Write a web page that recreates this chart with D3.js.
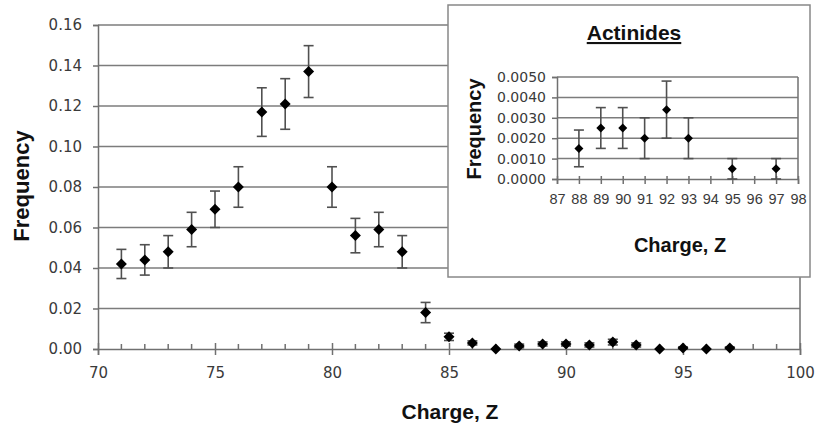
<!DOCTYPE html>
<html><head><meta charset="utf-8">
<script src="https://cdn.jsdelivr.net/npm/d3@7"></script>
<style>
html,body{margin:0;padding:0;background:#fff;}
svg{display:block;}
</style></head>
<body>
<svg id="chart" width="818" height="430"></svg>
<script>
// Main chart data
const charges = [71,72,73,74,75,76,77,78,79,80,81,82,83,84,85,86,87,88,89,90,91,92,93,94,95,96,97];
const freqs   = [0.042,0.044,0.048,0.059,0.069,0.080,0.117,0.121,0.137,0.080,0.056,0.059,0.048,0.018,0.006,0.003,0.000,0.0015,0.0025,0.0025,0.0020,0.0034,0.0020,0.000,0.0005,0.000,0.0005];
const errs    = [0.0072,0.0075,0.008,0.0085,0.009,0.010,0.012,0.0125,0.0128,0.010,0.0085,0.0085,0.008,0.005,0.0018,0.001,0,0.0009,0.001,0.001,0.001,0.0014,0.001,0,0.0005,0,0.0005];
const yTicks = [0,0.02,0.04,0.06,0.08,0.10,0.12,0.14,0.16];
const xTicks = [70,75,80,85,90,95,100];

// Inset (Actinides) data
const actCharges = [88,89,90,91,92,93,95,97];
const actFreqs   = [0.0015,0.0025,0.0025,0.0020,0.0034,0.0020,0.0005,0.0005];
const actErrs    = [0.0009,0.0010,0.0010,0.0010,0.0014,0.0010,0.0005,0.0005];
const actYTicks = [0,0.001,0.002,0.003,0.004,0.005];
const actXTicks = [87,88,89,90,91,92,93,94,95,96,97,98];

const svg = d3.select("#chart");
const GRID = "#7c7c7c", AXIS = "#707070", ERR = "#505050", TXT = "#3a3a3a";
const SANS = "Liberation Sans, Arial, sans-serif";
const WIDE = "DejaVu Sans, Verdana, sans-serif";

function drawPanel(g, opt){
  const x = d3.scaleLinear(opt.xDomain, opt.xRange);
  const y = d3.scaleLinear(opt.yDomain, opt.yRange);
  g.append("g").selectAll("line").data(opt.yTicks.filter(d=>d>0)).join("line")
    .attr("x1", opt.xRange[0]).attr("x2", opt.xRange[1])
    .attr("y1", d=>y(d)).attr("y2", d=>y(d))
    .attr("stroke", GRID).attr("stroke-width", 1.5);
  g.append("line").attr("x1", opt.xRange[1]).attr("x2", opt.xRange[1])
    .attr("y1", opt.yRange[0]).attr("y2", opt.yRange[1]).attr("stroke", AXIS).attr("stroke-width",1.5);
  const ya = d3.axisLeft(y).tickValues(opt.yTicks).tickFormat(opt.yFmt).tickSize(5).tickPadding(opt.yPad);
  const yg = g.append("g").attr("transform", `translate(${opt.xRange[0]},0)`).call(ya);
  yg.select(".domain").attr("stroke", AXIS).attr("stroke-width",1.5);
  yg.selectAll(".tick line").attr("stroke", AXIS).attr("stroke-width",1.5);
  yg.selectAll(".tick text").attr("font-family", opt.yFont).attr("font-size", opt.yFs).attr("fill", TXT);
  const xa = d3.axisBottom(x).tickValues(opt.xTicks).tickSize(opt.xTickDown).tickPadding(opt.xPad);
  const xg = g.append("g").attr("transform", `translate(0,${opt.yRange[0]})`).call(xa);
  xg.select(".domain").attr("stroke", AXIS).attr("stroke-width",1.5);
  xg.selectAll(".tick line").attr("stroke", AXIS).attr("stroke-width",1.5).attr("y1", -opt.xTickUp);
  xg.selectAll(".tick text").attr("font-family", opt.xFont).attr("font-size", opt.xFs).attr("fill", TXT);
  if (opt.minor){
    xg.append("g").selectAll("line").data(opt.minor).join("line")
      .attr("x1", d=>x(d)).attr("x2", d=>x(d)).attr("y1", 0).attr("y2", -5)
      .attr("stroke", AXIS).attr("stroke-width",1.5);
  }
  const data = opt.xs.map((c,i)=>({c, v:opt.vs[i], e:opt.es[i]}));
  const eb = g.append("g");
  data.filter(d=>d.e>0).forEach(d=>{
    const cx = x(d.c), y1 = y(d.v+d.e), y0 = y(Math.max(0,d.v-d.e));
    eb.append("line").attr("x1",cx).attr("x2",cx).attr("y1",y1).attr("y2",y0).attr("stroke",ERR).attr("stroke-width",1.6);
    eb.append("line").attr("x1",cx-opt.cap).attr("x2",cx+opt.cap).attr("y1",y1).attr("y2",y1).attr("stroke",ERR).attr("stroke-width",1.6);
    eb.append("line").attr("x1",cx-opt.cap).attr("x2",cx+opt.cap).attr("y1",y0).attr("y2",y0).attr("stroke",ERR).attr("stroke-width",1.6);
  });
  const r = opt.mk;
  g.append("g").selectAll("path").data(data).join("path")
    .attr("d", d=>`M${x(d.c)},${y(d.v)-r}L${x(d.c)+r},${y(d.v)}L${x(d.c)},${y(d.v)+r}L${x(d.c)-r},${y(d.v)}Z`)
    .attr("fill", "#000");
  return {x,y};
}

const mainG = svg.append("g");
drawPanel(mainG, {
  xDomain:[70,100], xRange:[98,800], yDomain:[0,0.16], yRange:[349,25],
  yTicks, xTicks, yFmt:d3.format(".2f"), yPad:11, yFont:WIDE, yFs:15,
  xTickDown:6, xTickUp:6, xPad:12, xFont:WIDE, xFs:15,
  minor: d3.range(71,100).filter(d=>d%5!==0),
  xs:charges, vs:freqs, es:errs, cap:5, mk:5.5
});
mainG.append("text").attr("transform","translate(29,186) rotate(-90)").attr("text-anchor","middle")
  .attr("font-family",SANS).attr("font-weight","bold").attr("font-size",22).attr("fill","#111").text("Frequency");
mainG.append("text").attr("x",450).attr("y",419).attr("text-anchor","middle")
  .attr("font-family",SANS).attr("font-weight","bold").attr("font-size",21).attr("fill","#111").text("Charge, Z");

const inG = svg.append("g");
inG.append("rect").attr("x",448).attr("y",5).attr("width",362).attr("height",272)
  .attr("fill","#fff").attr("stroke","#888").attr("stroke-width",1.5);
drawPanel(inG, {
  xDomain:[87,98], xRange:[557,798], yDomain:[0,0.005], yRange:[179,77],
  yTicks:actYTicks, xTicks:actXTicks, yFmt:d3.format(".4f"), yPad:6, yFont:WIDE, yFs:14,
  xTickDown:5, xTickUp:3, xPad:10, xFont:SANS, xFs:14.5,
  minor:null,
  xs:actCharges, vs:actFreqs, es:actErrs, cap:5, mk:4.5
});
inG.append("text").attr("x",634).attr("y",40).attr("text-anchor","middle")
  .attr("font-family",SANS).attr("font-weight","bold").attr("font-size",21).attr("fill","#111")
  .attr("text-decoration","underline").text("Actinides");
inG.append("text").attr("transform","translate(481,129) rotate(-90)").attr("text-anchor","middle")
  .attr("font-family",SANS).attr("font-weight","bold").attr("font-size",20).attr("fill","#111").text("Frequency");
inG.append("text").attr("x",680).attr("y",252).attr("text-anchor","middle")
  .attr("font-family",SANS).attr("font-weight","bold").attr("font-size",20).attr("fill","#111").text("Charge, Z");
</script>
</body></html>
